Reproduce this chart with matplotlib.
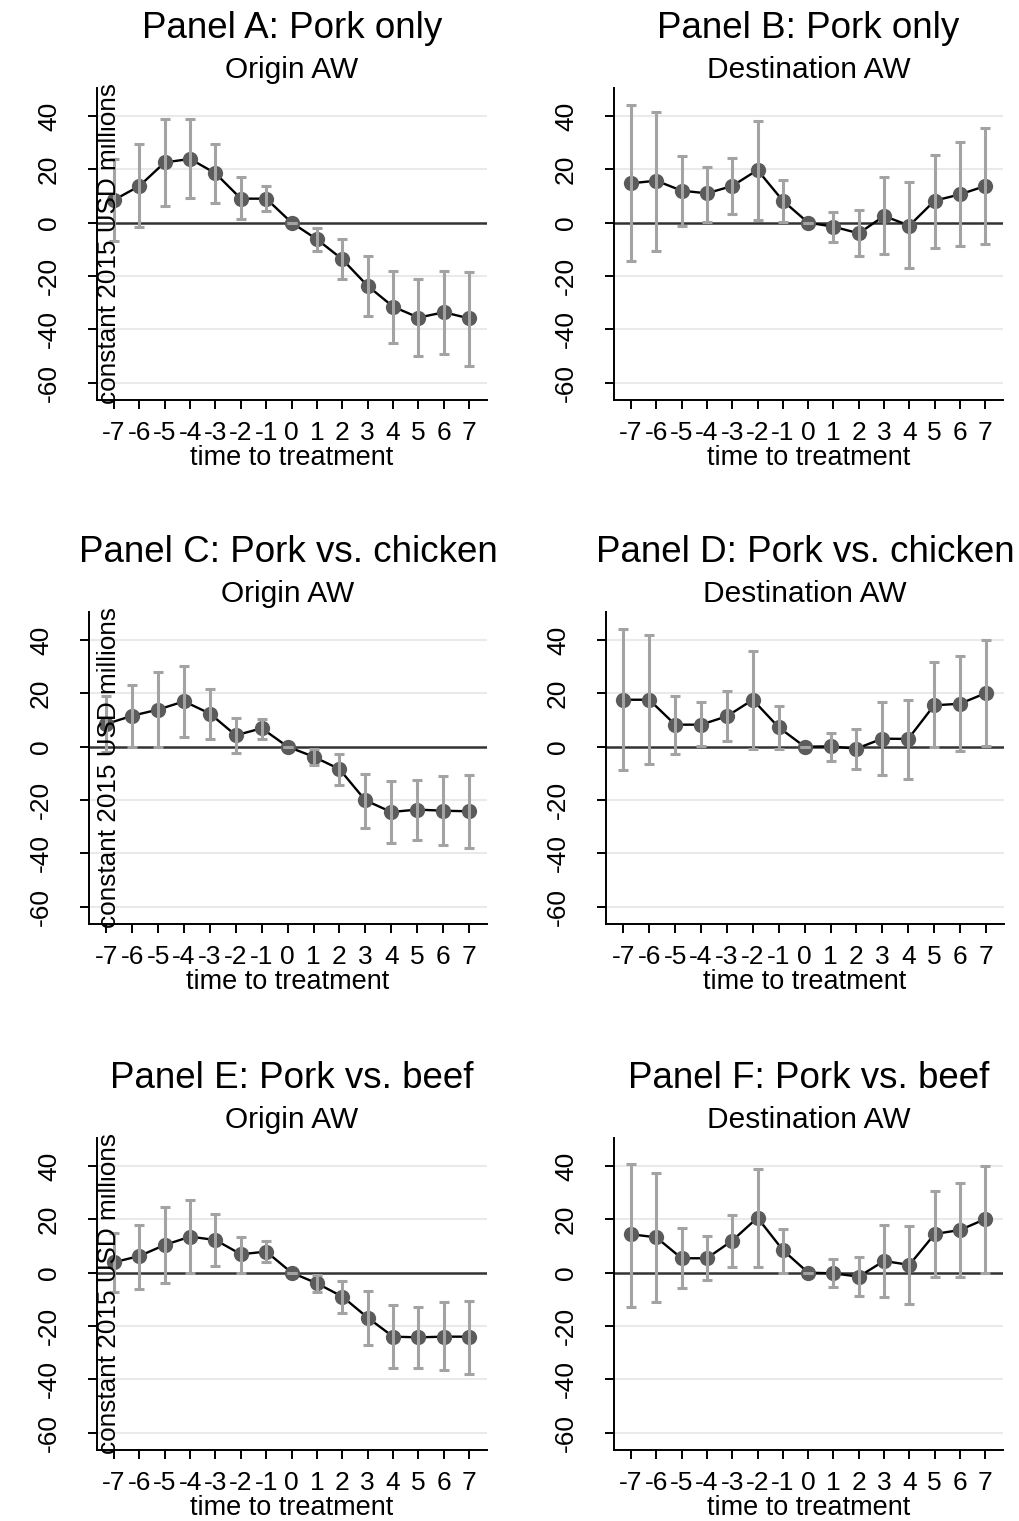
import matplotlib
matplotlib.use("Agg")
import matplotlib.pyplot as plt
import numpy as np

plt.rcParams['font.family'] = ['Liberation Sans', 'DejaVu Sans']
plt.rcParams['axes.unicode_minus'] = False

# event-time dummies, -7 ... 7
periods = list(range(-7, 8))

# Panel A: pork only, origin AW
a_coef = [8.5, 13.75, 22.6, 23.9, 18.5, 9, 9, 0, -6.25, -13.75, -23.75, -31.5, -35.6, -33.6, -35.9]
a_lo = [-7, -1.5, 6.25, 9.1, 7.5, 1.25, 4.5, 0, -10.5, -21.25, -35, -45.25, -50, -49.25, -53.6]
a_hi = [24, 29.4, 38.75, 38.75, 29.6, 17, 13.75, 0, -2.1, -6.25, -12.4, -18.25, -21.25, -18.25, -18.6]

# Panel B: pork only, destination AW
b_coef = [14.75, 15.75, 12, 11, 13.75, 19.75, 8.25, 0, -1.5, -4, 2.5, -1.1, 8.25, 10.6, 13.75]
b_lo = [-14.4, -10.5, -1.1, 0.4, 3.1, 1, 0.1, 0, -7.1, -12.4, -11.9, -16.9, -9.4, -8.75, -8.1]
b_hi = [44.1, 41.6, 25.1, 21, 24.4, 38.25, 16, 0, 4.1, 4.75, 17, 15.4, 25.4, 30.1, 35.6]

# Panel C: pork vs. chicken, origin AW
c_coef = [8.5, 11.6, 13.9, 17, 12.4, 4.25, 6.9, 0, -3.75, -8.4, -20.1, -24.5, -23.6, -24, -24.25]
c_lo = [-2, 0, 0, 3.6, 3, -2.4, 2.9, 0, -7, -14.25, -30.5, -36.1, -34.9, -36.75, -38]
c_hi = [19, 23.25, 27.9, 30.4, 21.75, 10.75, 10.4, 0, -0.9, -2.6, -10.25, -13, -12.6, -11.1, -10.75]

# Panel D: pork vs. chicken, destination AW
d_coef = [17.6, 17.6, 8.25, 8.25, 11.4, 17.6, 7.25, 0, 0.1, -0.75, 3, 2.9, 15.5, 16.1, 20.1]
d_lo = [-8.9, -6.5, -2.75, 0.4, 2, -0.9, -0.9, 0, -5.5, -8.25, -10.5, -12, -0.25, -1.5, 0.4]
d_hi = [44.25, 41.75, 19.1, 16.6, 20.75, 35.75, 15.1, 0, 5.1, 6.75, 16.6, 17.4, 31.75, 33.9, 39.9]

# Panel E: pork vs. beef, origin AW
e_coef = [3.9, 6.25, 10.4, 13.5, 12.25, 6.9, 7.9, 0, -4, -9, -16.9, -24, -24.25, -24, -24]
e_lo = [-7.1, -6.25, -4, 0, 2.6, 0, 3.9, 0, -7.1, -15.25, -27.1, -35.6, -35.6, -36.5, -38]
e_hi = [15, 17.9, 24.75, 27.25, 22, 13.5, 11.9, 0, -0.9, -3.1, -6.9, -12.1, -12.75, -11.1, -10.5]

# Panel F: pork vs. beef, destination AW
f_coef = [14.4, 13.25, 5.4, 5.4, 12, 20.6, 8.5, 0, -0.25, -1.5, 4.4, 2.9, 14.5, 16, 20.1]
f_lo = [-12.75, -11.1, -5.9, -2.75, 2.25, 2.25, 0, 0, -5.5, -8.75, -9.25, -11.9, -1.5, -1.5, 0]
f_hi = [40.75, 37.25, 16.9, 13.75, 21.6, 38.9, 16.25, 0, 5.1, 6, 17.9, 17.5, 30.75, 33.75, 40]

y_ticks = [-60, -40, -20, 0, 20, 40]
grid_levels = [-60, -40, -20, 20, 40]

W, H = 1020, 1521
fig = plt.figure(figsize=(W / 100, H / 100), dpi=100)

# (title, subtitle, coef, lo, hi, pixel box left/right/top/bottom, y title?)
panels = [
    ("Panel A: Pork only", "Origin AW", a_coef, a_lo, a_hi, (97, 487, 88, 400), True),
    ("Panel B: Pork only", "Destination AW", b_coef, b_lo, b_hi, (614, 1003, 88, 400), False),
    ("Panel C: Pork vs. chicken", "Origin AW", c_coef, c_lo, c_hi, (89, 487, 612, 924), True),
    ("Panel D: Pork vs. chicken", "Destination AW", d_coef, d_lo, d_hi, (606, 1004, 612, 924), False),
    ("Panel E: Pork vs. beef", "Origin AW", e_coef, e_lo, e_hi, (97, 487, 1138, 1450), True),
    ("Panel F: Pork vs. beef", "Destination AW", f_coef, f_lo, f_hi, (614, 1003, 1138, 1450), False),
]


def draw_panel(title, subtitle, coef, lo, hi, box, ytitle):
    left, right, top, bottom = box
    ax = fig.add_axes([left / W, 1 - bottom / H, (right - left) / W, (bottom - top) / H])
    ax.set_xlim(-7.67, 7.7)
    ax.set_ylim(-66.5, 50.5)

    for g in grid_levels:
        ax.axhline(g, color='#EAEAEA', lw=1.5, zorder=0)
    ax.axhline(0, color='#333333', lw=1.8, zorder=1)

    coef = np.array(coef)
    err = [coef - np.array(lo), np.array(hi) - coef]
    ax.plot(periods, coef, color='black', lw=1.7, zorder=2)
    ax.plot(periods, coef, 'o', color='#5B5B5B', ms=11, mew=0, zorder=3)
    ax.errorbar(periods, coef, yerr=err, fmt='none', ecolor='#A3A3A3',
                elinewidth=2.2, capsize=3.5, capthick=2.2, zorder=4)

    for side in ('top', 'right'):
        ax.spines[side].set_visible(False)
    for side in ('left', 'bottom'):
        ax.spines[side].set_linewidth(1.4)

    ax.set_xticks(periods)
    ax.set_yticks(y_ticks)
    ax.tick_params(direction='out', length=6.5, width=1.4, labelsize=19)
    ax.tick_params(axis='x', pad=8.5)
    ax.tick_params(axis='y', pad=28)
    plt.setp(ax.get_yticklabels(), rotation=90, ha='center', va='center')
    ax.set_xlabel('time to treatment', fontsize=19.5, labelpad=0)

    cx = (left + right) / 2 / W
    fig.text(cx, 1 - (top - 50) / H, title, ha='center', va='baseline', fontsize=26.5)
    fig.text(cx, 1 - (top - 10) / H, subtitle, ha='center', va='baseline', fontsize=21.5)
    if ytitle:
        fig.text(97 / W, 1 - (top + bottom) / 2 / H, 'constant 2015 USD millions',
                 rotation=90, ha='left', va='center', fontsize=18.8)
    return ax


for p in panels:
    draw_panel(*p)

fig.savefig('out.png', dpi=100)
